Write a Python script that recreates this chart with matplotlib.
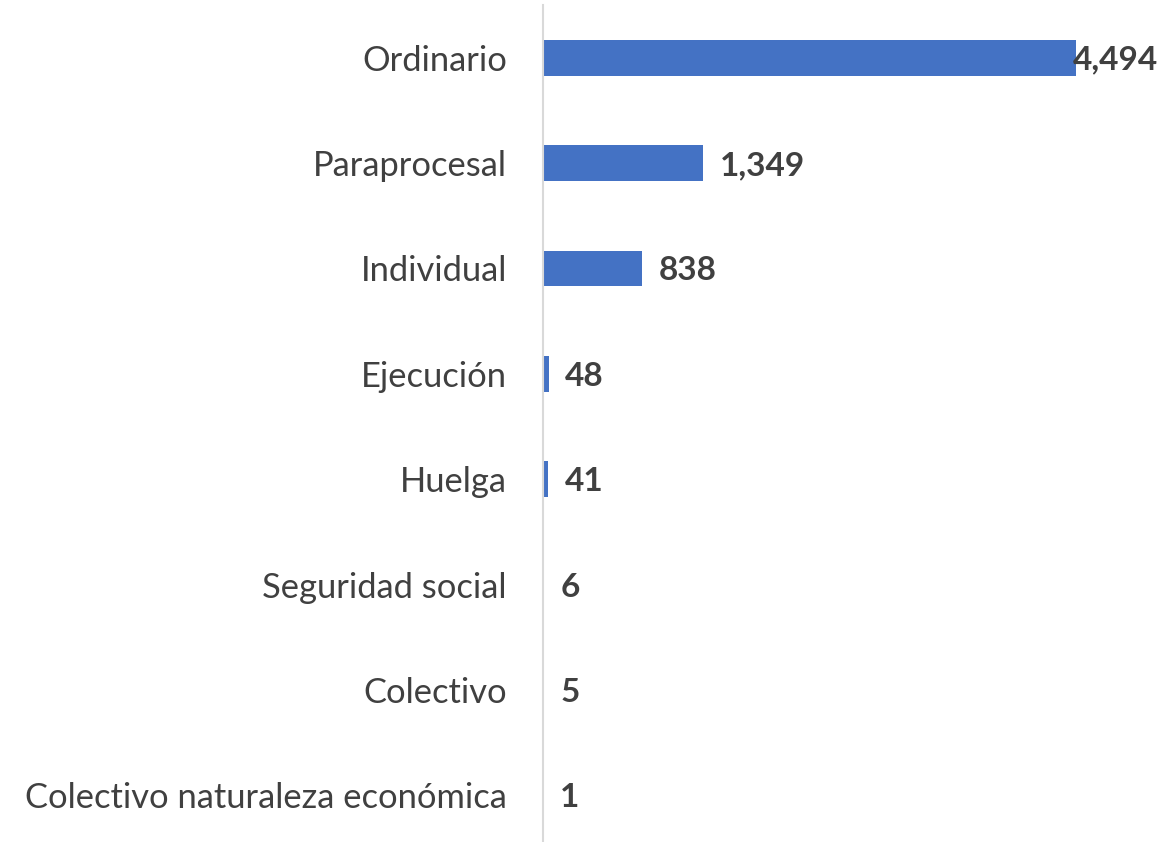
import matplotlib
matplotlib.use("Agg")
import matplotlib.pyplot as plt

categories = ["Ordinario", "Paraprocesal", "Individual", "Ejecución", "Huelga",
              "Seguridad social", "Colectivo", "Colectivo naturaleza económica"]
values = [4494, 1349, 838, 48, 41, 6, 5, 1]
value_labels = ["4,494", "1,349", "838", "48", "41", "6", "5", "1"]

plt.rcParams['font.family'] = ['Lato', 'DejaVu Sans']

fig = plt.figure(figsize=(11.73, 8.42), dpi=100)
ax = fig.add_axes([543/1173, -6/842, 593/1173, 843/842])

y = list(range(len(categories)))
ax.barh(y, values, height=0.34, color="#4472C4")
ax.set_ylim(len(categories) - 0.5, -0.5)
ax.set_xlim(0, 5000)

ax.set_yticks(y)
ax.set_yticklabels(categories, fontsize=24.8, color="#404040")
ax.tick_params(axis="y", length=0, pad=26)
ax.set_xticks([])
for s in ["top", "right", "bottom"]:
    ax.spines[s].set_visible(False)
ax.spines["left"].set_color("#D9D9D9")
ax.spines["left"].set_linewidth(1.5)

for i, (v, lab) in enumerate(zip(values, value_labels)):
    off = -2 if v == max(values) else 12
    ax.annotate(lab, (v, i), xytext=(off, 0), textcoords="offset points",
                ha="left", va="center_baseline", fontsize=24, fontweight="bold",
                color="#404040", annotation_clip=False)

fig.savefig("out.png", dpi=100)
